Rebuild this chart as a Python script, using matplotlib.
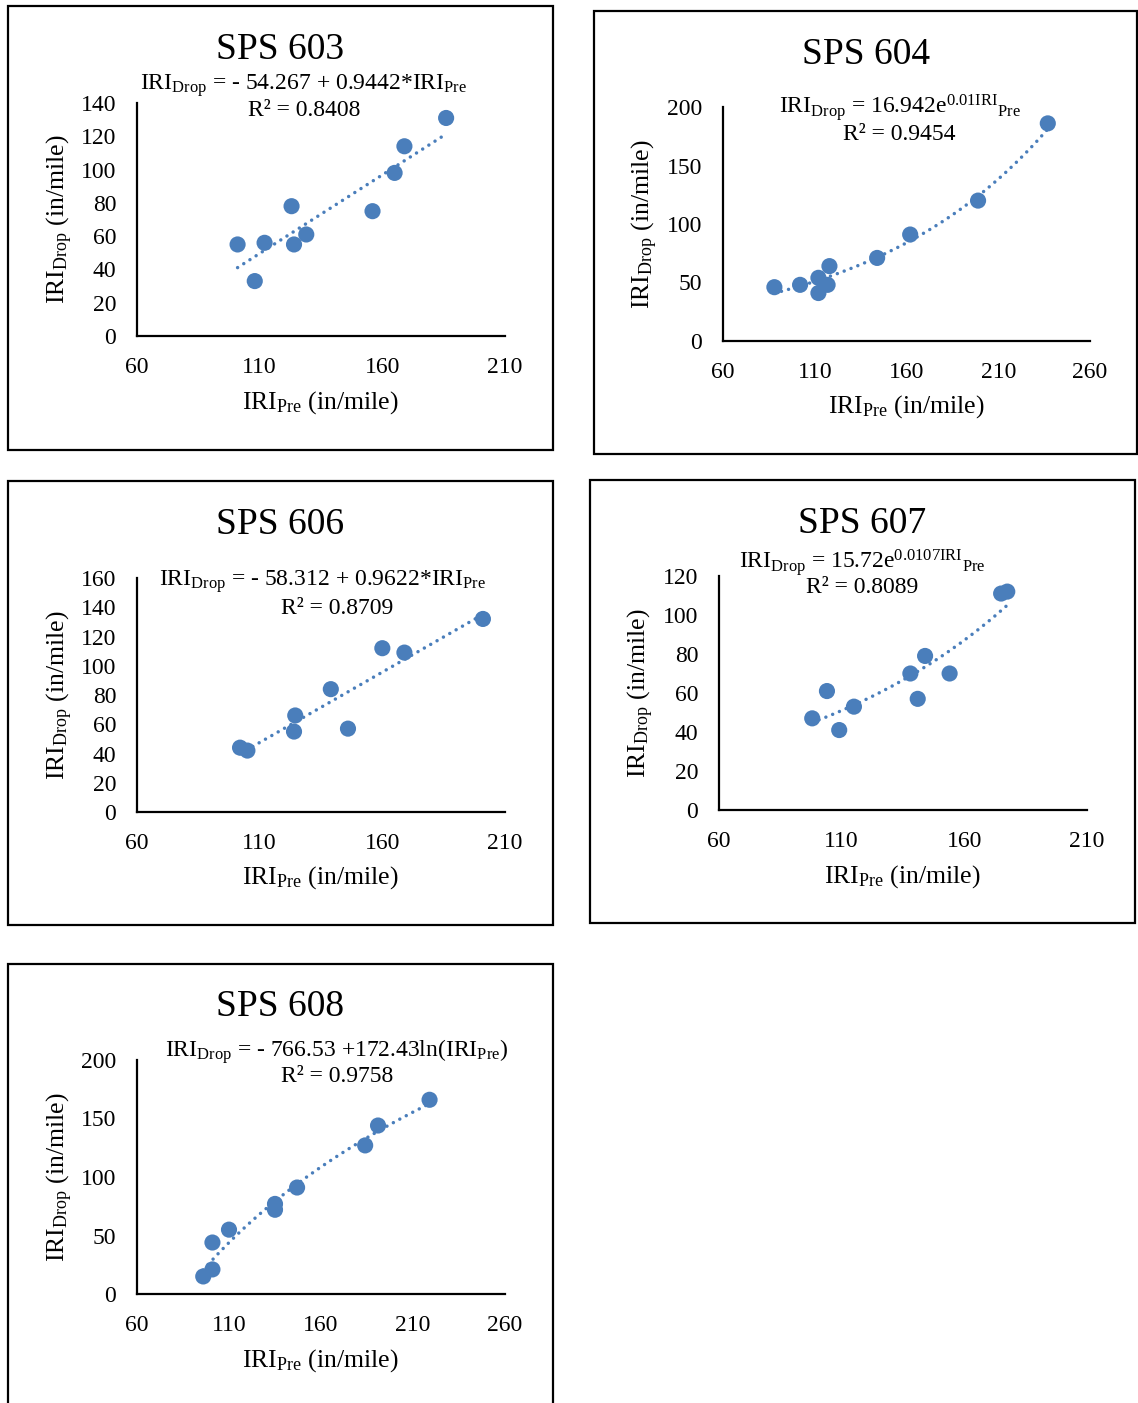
import numpy as np
import matplotlib
matplotlib.use("Agg")
import matplotlib.pyplot as plt
from matplotlib.patches import Rectangle

plt.rcParams["font.family"] = ["Liberation Serif", "DejaVu Serif"]
plt.rcParams["mathtext.fontset"] = "custom"
plt.rcParams["mathtext.rm"] = "Liberation Serif"
plt.rcParams["mathtext.it"] = "Liberation Serif:italic"

# Data
titles = ["SPS 603", "SPS 604", "SPS 606", "SPS 607", "SPS 608"]

x603 = [101, 108, 112, 123, 124, 129, 156, 165, 169, 186]
y603 = [55, 33, 56, 78, 55, 61, 75, 98, 114, 131]

x604 = [88, 102, 112, 112, 117, 118, 144, 162, 199, 237]
y604 = [46, 48, 54, 41, 48, 64, 71, 91, 120, 186]

x606 = [102, 105, 124.5, 124, 139, 146, 160, 169, 201]
y606 = [44, 42, 66, 55, 84, 57, 112, 109, 132]

x607 = [98, 104, 109, 115, 138, 141, 144, 154, 175, 177.5]
y607 = [47, 61, 41, 53, 70, 57, 79, 70, 111, 112]

x608 = [96, 101, 101, 110, 135, 135, 147, 184, 191, 219]
y608 = [15, 21, 44, 55, 77, 72, 91, 127, 144, 166]

# trendline coefficients as printed on the chart
lin603 = [-54.267, 0.9442]
exp604 = [16.942, 0.01]
lin606 = [-58.312, 0.9622]
exp607 = [15.72, 0.0107]
log608 = [-766.53, 172.43]

eq_texts = [
    "IRI$_\\mathrm{Drop}$ = - 54.267 + 0.9442*IRI$_\\mathrm{Pre}$",
    "IRI$_\\mathrm{Drop}$ = 16.942e$^{0.01\\mathrm{IRI}}{}_\\mathrm{Pre}$",
    "IRI$_\\mathrm{Drop}$ = - 58.312 + 0.9622*IRI$_\\mathrm{Pre}$",
    "IRI$_\\mathrm{Drop}$ = 15.72e$^{0.0107\\mathrm{IRI}}{}_\\mathrm{Pre}$",
    "IRI$_\\mathrm{Drop}$ = - 766.53 +172.43ln(IRI$_\\mathrm{Pre}$)",
]
r2_texts = ["R² = 0.8408", "R² = 0.9454", "R² = 0.8709", "R² = 0.8089", "R² = 0.9758"]

xlims = [(60, 210), (60, 260), (60, 210), (60, 210), (60, 260)]
xsteps = [50, 50, 50, 50, 50]
ylims = [(0, 140), (0, 200), (0, 160), (0, 120), (0, 200)]
ysteps = [20, 50, 20, 20, 50]

W, H = 1138, 1403
fig = plt.figure(figsize=(W / 100, H / 100), dpi=100)


def fx(px):
    return px / W


def fy(py):
    return 1 - py / H


# layout in pixels: plot area (left, top, right, bottom), border box, text anchors
areas = [(137, 103, 505, 336), (723, 107, 1090, 341), (137, 578, 505, 812),
         (719, 576, 1087, 810), (137, 1060, 505, 1294)]
boxes = [(8, 6, 553, 450), (594, 11, 1137, 454), (8, 481, 553, 925),
         (590, 480, 1135, 923), (8, 964, 553, 1410)]
title_pos = [(280, 50), (866, 55), (280, 525), (862, 524), (280, 1007)]
eq_pos = [(304, 86), (900, 107), (323, 582), (862, 562), (337, 1052)]
r2_pos = [(304, 111), (899, 134), (337, 608), (862, 588), (337, 1077)]
xlab_pos = [(320, 403), (906, 407), (320, 878), (902, 877), (320, 1361)]
ylab_x = [60, 645, 60, 641, 60]

xs = [x603, x604, x606, x607, x608]
ys = [y603, y604, y606, y607, y608]

blue = "#4a7ebb"

for i in range(5):
    l, t, r, b = areas[i]
    ax = fig.add_axes([fx(l), fy(b), (r - l) / W, (b - t) / H])
    x = np.array(xs[i], dtype=float)
    y = np.array(ys[i], dtype=float)

    # trendline
    xt = np.linspace(x.min(), x.max(), 200)
    if i == 0:
        yt = lin603[0] + lin603[1] * xt
    elif i == 1:
        yt = exp604[0] * np.exp(exp604[1] * xt)
    elif i == 2:
        yt = lin606[0] + lin606[1] * xt
    elif i == 3:
        yt = exp607[0] * np.exp(exp607[1] * xt)
    else:
        yt = log608[0] + log608[1] * np.log(xt)
    ax.plot(xt, yt, color=blue, linewidth=2.5, linestyle=(0, (0.01, 2.1)),
            dash_capstyle="round", zorder=2)

    ax.scatter(x, y, s=135, color=blue, edgecolors="none", zorder=3)

    ax.set_xlim(*xlims[i])
    ax.set_ylim(*ylims[i])
    ax.set_xticks(np.arange(xlims[i][0], xlims[i][1] + 1, xsteps[i]))
    ax.set_yticks(np.arange(ylims[i][0], ylims[i][1] + 1, ysteps[i]))
    ax.tick_params(length=0, labelsize=17)
    ax.tick_params(axis="x", pad=15)
    ax.tick_params(axis="y", pad=15)
    for s in ["top", "right"]:
        ax.spines[s].set_visible(False)
    for s in ["left", "bottom"]:
        ax.spines[s].set_linewidth(1.6)
        ax.spines[s].set_color("black")
    ax.patch.set_alpha(0)

    # texts
    fig.text(fx(title_pos[i][0]), fy(title_pos[i][1]), titles[i],
             fontsize=27, ha="center", va="center")
    fig.text(fx(eq_pos[i][0]), fy(eq_pos[i][1]), eq_texts[i],
             fontsize=17, ha="center", va="center")
    fig.text(fx(r2_pos[i][0]), fy(r2_pos[i][1]), r2_texts[i],
             fontsize=17, ha="center", va="center")
    fig.text(fx(xlab_pos[i][0]), fy(xlab_pos[i][1]), "IRI$_\\mathrm{Pre}$ (in/mile)",
             fontsize=18.5, ha="center", va="center")
    fig.text(fx(ylab_x[i]), fy((t + b) / 2), "IRI$_\\mathrm{Drop}$ (in/mile)",
             fontsize=18.5, ha="center", va="center", rotation=90)

    # border box
    bl, bt, br, bb = boxes[i]
    fig.patches.append(Rectangle((fx(bl), fy(bb)), (br - bl) / W, (bb - bt) / H,
                                 transform=fig.transFigure, fill=False,
                                 edgecolor="black", linewidth=1.6))

fig.savefig("out.png", dpi=100)
